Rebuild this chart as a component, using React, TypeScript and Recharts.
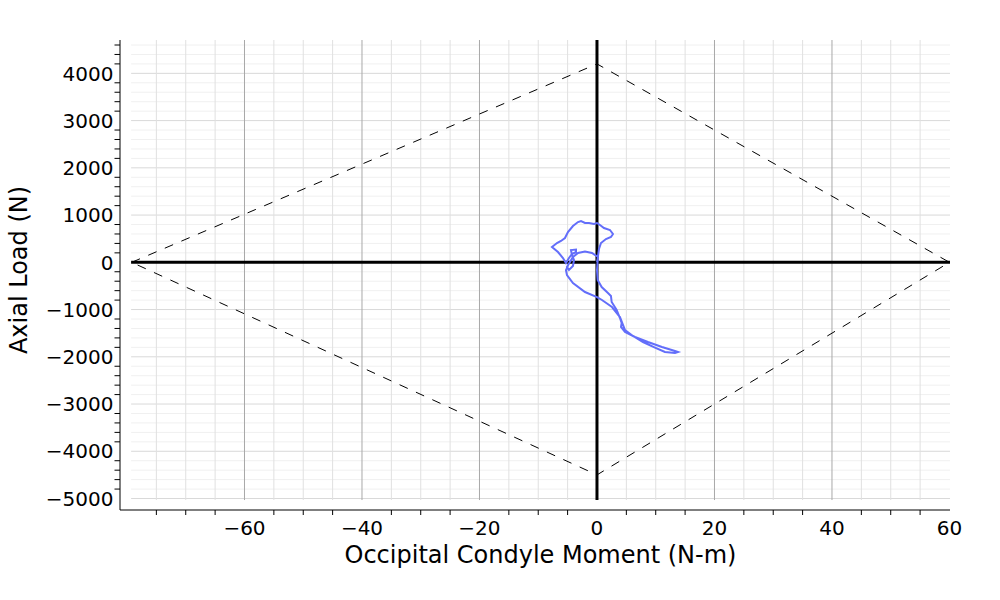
import React from 'react';
import { LineChart, Line, XAxis, YAxis, ReferenceLine } from 'recharts';

const FONT = '"DejaVu Sans", Verdana, sans-serif';

// Axis ranges (data units)
const X_DOMAIN: [number, number] = [-81.19, 60.09];
const Y_DOMAIN: [number, number] = [-5243, 4706];
const X_PLOT_MIN = -79.3;
const Y_PLOT_MIN = -5032;

// Tick values
const xTicks = [-75, -70, -65, -60, -55, -50, -45, -40, -35, -30, -25, -20, -15, -10, -5, 0, 5, 10, 15, 20, 25, 30, 35, 40, 45, 50, 55, 60];
const xLabelTicks = [-60, -40, -20, 0, 20, 40, 60];
const yTicks = [
  -5000, -4800, -4600, -4400, -4200, -4000, -3800, -3600, -3400, -3200,
  -3000, -2800, -2600, -2400, -2200, -2000, -1800, -1600, -1400, -1200,
  -1000, -800, -600, -400, -200, 0, 200, 400, 600, 800,
  1000, 1200, 1400, 1600, 1800, 2000, 2200, 2400, 2600, 2800,
  3000, 3200, 3400, 3600, 3800, 4000, 4200, 4400, 4600,
];
const yLabelTicks = [-5000, -4000, -3000, -2000, -1000, 0, 1000, 2000, 3000, 4000];

// Grid values
const xGrid = [-75, -70, -65, -60, -55, -50, -45, -40, -35, -30, -25, -20, -15, -10, -5, 5, 10, 15, 20, 25, 30, 35, 40, 45, 50, 55];
const xGridMajor = [-60, -40, -20, 20, 40];
const yGrid = yTicks.filter((v) => v !== 0);
const yGridMajor = [-5000, -4000, -3000, -2000, -1000, 1000, 2000, 3000, 4000];

// Limit diamond (dashed)
const limitMoment = [-79.2, 0, 60, 0, -79.2];
const limitLoad = [0, 4200, 0, -4500, 0];

// Measured trajectory
const moment = [
  0, 0.17, -0.85, -2.04, -3.23, -4.09, -4.6, -5.11, -4.77, -4.09,
  -3.91, -4.26, -4.43, -3.57, -3.57, -4.26, -4.77, -5.28, -5.79, -6.64,
  -7.66, -6.81, -6.13, -5.45, -4.94, -4.09, -3.23, -2.72, -2.04, -1.36,
  -0.51, 0, 0.51, 1.19, 2.21, 2.72, 2.38, 1.53, 0.68, 0.34,
  0.17, 0.09, 0, 0.12, 0.8, 1.87, 2.38, 2.5, 3.35, 3.91,
  4.2, 4.09, 4.77, 6.47, 8.68, 11.06, 13.28, 13.79, 13.28, 11.57,
  9.87, 7.83, 6.13, 4.77, 3.91, 2.55, 0.85, 0, -2.04, -4.09,
  -5.11, -5.28, -4.94,
];
const axialLoad = [
  6, 112, 197, 229, 197, 112, 6, -99, -163, -78,
  49, 155, 260, 271, 218, 176, 91, -15, 91, 218,
  324, 409, 451, 514, 641, 768, 853, 874, 832, 832,
  811, 832, 789, 726, 684, 599, 536, 493, 409, 282,
  133, -15, -163, -375, -523, -650, -713, -840, -1010, -1179,
  -1285, -1369, -1475, -1581, -1687, -1793, -1878, -1899, -1920, -1899,
  -1804, -1687, -1560, -1433, -1158, -946, -798, -735, -629, -438,
  -269, -163, -78,
];

const curveData = moment.map((m, i) => ({ x: m, y: axialLoad[i] }));
const limitData = limitMoment.map((m, i) => ({ x: m, y: limitLoad[i] }));

const fmt = (v: number) => (v < 0 ? '\u2212' + Math.abs(v) : String(v));

const TICK_FONT = 20;
const TITLE_FONT = 24;

const XTick = (props: any) => {
  const { x, y, payload } = props;
  const v = payload.value;
  if (xLabelTicks.includes(v)) {
    return (
      <text x={x} y={y + 25} textAnchor="middle" fontSize={TICK_FONT} fontFamily={FONT} fill="#000">
        {fmt(v)}
      </text>
    );
  }
  return <line x1={x} x2={x} y1={y} y2={y + 5} stroke="#000" strokeWidth={1} />;
};

const YTick = (props: any) => {
  const { x, y, payload } = props;
  const v = payload.value;
  if (yLabelTicks.includes(v)) {
    return (
      <text x={x - 6.5} y={y + 7.2} textAnchor="end" fontSize={TICK_FONT} fontFamily={FONT} fill="#000">
        {fmt(v)}
      </text>
    );
  }
  return <line x1={x - 5.5} x2={x} y1={y} y2={y} stroke="#000" strokeWidth={1} />;
};

export default function App() {
  return (
    <div style={{ position: 'absolute', left: 0, top: 0, width: 1000, height: 600, background: '#fff' }}>
      <LineChart width={1000} height={600} margin={{ top: 40, right: 50, bottom: 40, left: 60 }}>
        <XAxis
          type="number"
          dataKey="x"
          domain={X_DOMAIN}
          allowDataOverflow
          ticks={xTicks}
          interval={0}
          tickSize={0}
          tickMargin={0}
          tickLine={false}
          tick={<XTick />}
          axisLine={{ stroke: '#000', strokeWidth: 1 }}
          height={50}
          label={{
            content: (p: any) => (
              <text
                x={p.viewBox.x + p.viewBox.width / 2 + 5.5}
                y={p.viewBox.y + 53}
                textAnchor="middle"
                fontSize={TITLE_FONT}
                fontFamily={FONT}
                fill="#000"
              >
                Occipital Condyle Moment (N-m)
              </text>
            ),
          }}
        />
        <YAxis
          type="number"
          dataKey="y"
          domain={Y_DOMAIN}
          allowDataOverflow
          ticks={yTicks}
          interval={0}
          tickSize={0}
          tickMargin={0}
          tickLine={false}
          tick={<YTick />}
          axisLine={{ stroke: '#000', strokeWidth: 1 }}
          width={60}
          label={{
            content: () => (
              <text
                x={27}
                y={270}
                transform="rotate(-90, 27, 270)"
                textAnchor="middle"
                fontSize={TITLE_FONT}
                fontFamily={FONT}
                fill="#000"
              >
                Axial Load (N)
              </text>
            ),
          }}
        />
        {yGrid.map((v) => (
          <ReferenceLine
            key={'hy' + v}
            segment={[{ x: X_PLOT_MIN, y: v }, { x: X_DOMAIN[1], y: v }]}
            stroke={yGridMajor.includes(v) ? '#d9d9d9' : '#f0f0f0'}
            strokeWidth={1}
          />
        ))}
        {xGrid.map((v) => (
          <ReferenceLine
            key={'vx' + v}
            segment={[{ x: v, y: Y_PLOT_MIN }, { x: v, y: Y_DOMAIN[1] }]}
            stroke={xGridMajor.includes(v) ? '#a8a8a8' : '#e0e0e0'}
            strokeWidth={1}
          />
        ))}
        <ReferenceLine segment={[{ x: X_PLOT_MIN, y: 0 }, { x: X_DOMAIN[1], y: 0 }]} stroke="#000" strokeWidth={3} />
        <ReferenceLine segment={[{ x: 0, y: Y_PLOT_MIN }, { x: 0, y: Y_DOMAIN[1] }]} stroke="#000" strokeWidth={3} />
        <Line
          data={limitData}
          dataKey="y"
          type="linear"
          stroke="#000"
          strokeWidth={1}
          strokeDasharray="9 9"
          dot={false}
          activeDot={false}
          isAnimationActive={false}
        />
        <Line
          data={curveData}
          dataKey="y"
          type="linear"
          stroke="#636efa"
          strokeWidth={2}
          dot={false}
          activeDot={false}
          isAnimationActive={false}
        />
      </LineChart>
    </div>
  );
}
